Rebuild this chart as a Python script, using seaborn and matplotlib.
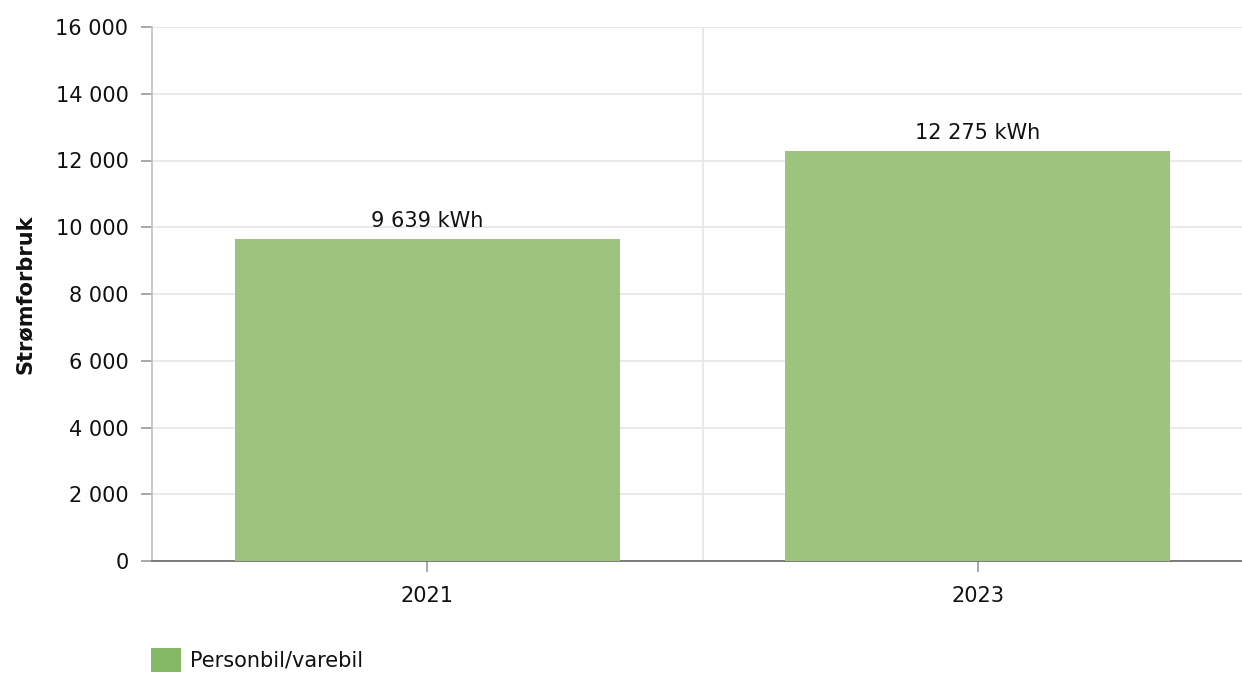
import matplotlib
matplotlib.use("Agg")
import matplotlib.pyplot as plt
import seaborn as sns
import pandas as pd
from matplotlib.patches import Patch
from matplotlib.ticker import FuncFormatter

years = ["2021", "2023"]
values = [9639, 12275]
series_name = "Personbil/varebil"
y_label = "Strømforbruk"

sns.set_theme(style="white")
plt.rcParams['font.family'] = ['DejaVu Sans']

df = pd.DataFrame({"year": years, "value": values})

W, H = 1242, 675
fig = plt.figure(figsize=(W / 100, H / 100), dpi=100)
ax = fig.add_axes([152 / W, 1 - 561 / H, (1242 - 152) / W, (561 - 27) / H])

FS = 15
bar_color = "#9cc47f"
sns.barplot(data=df, x="year", y="value", color=bar_color, width=0.70,
            saturation=1, ax=ax, zorder=3, linewidth=0)

ax.set_xlim(-0.5, 1.48)
ax.set_ylim(0, 16000)
ax.set_yticks(range(0, 16001, 2000))
ax.yaxis.set_major_formatter(FuncFormatter(lambda v, p: f"{int(v):,}".replace(",", " ")))
ax.grid(axis="y", color="#e6e6e6", linewidth=1.2, zorder=0)
ax.axvline(0.5, color="#e6e6e6", linewidth=1.2, zorder=0)

for s in ["top", "right"]:
    ax.spines[s].set_visible(False)
ax.spines["left"].set_color("#c0c0c0")
ax.spines["left"].set_linewidth(1.2)
ax.spines["bottom"].set_color("#666666")
ax.spines["bottom"].set_linewidth(1.2)

ax.tick_params(axis="y", direction="out", length=8, width=1.2, color="#999999",
               labelsize=FS, labelcolor="#111111", pad=9, left=True)
ax.tick_params(axis="x", direction="out", length=8, width=1.2, color="#999999",
               labelsize=FS, labelcolor="#111111", pad=10, bottom=True)

ax.set_xlabel("")
ax.set_ylabel(y_label, fontsize=FS, fontweight="bold", color="#111111")
ax.yaxis.set_label_coords(-117 / 1090, 0.5)

for i, v in enumerate(values):
    ax.text(i, v + 250, f"{v:,} kWh".replace(",", " "), ha="center", va="bottom",
            fontsize=FS, color="#111111", zorder=4)

handles = [Patch(facecolor="#84b865", edgecolor="none", label=series_name)]
fig.legend(handles=handles, loc="lower left", bbox_to_anchor=(132 / W, -0.024),
           frameon=False, fontsize=FS, handlelength=1.45, handleheight=1.45,
           handletextpad=0.45, labelcolor="#111111")

fig.savefig("out.png", dpi=100, facecolor="white")
